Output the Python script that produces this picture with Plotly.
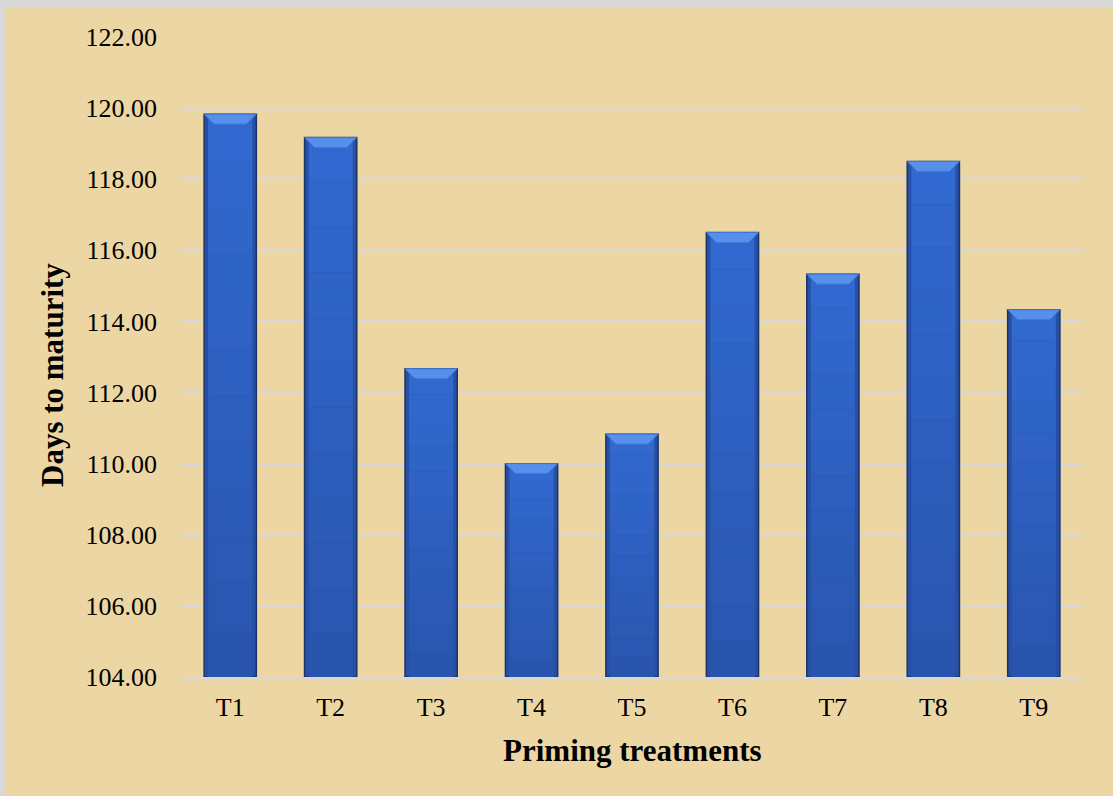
import plotly.graph_objects as go

# Priming treatments and mean days to maturity
treatments = ["T1", "T2", "T3", "T4", "T5", "T6", "T7", "T8", "T9"]
days_to_maturity = [119.83, 119.17, 112.67, 110.00, 110.83, 116.50, 115.33, 118.50, 114.33]
y_ticks = [104, 106, 108, 110, 112, 114, 116, 118, 120, 122]

W, H = 1113, 796
ML, MR, MT, MB = 180, 29, 37, 119
PW, PH = W - ML - MR, H - MT - MB

FONT = "Liberation Serif, Times New Roman, serif"
BG = "#ECD6A4"
GRID = "#D6D8DB"
BASE = 104

xs = list(range(len(treatments)))
BAR_W = 0.52


def px_x(p):
    return (p - ML) / PW


def px_y(p):
    return (H - MB - p) / PH


def mix(c1, c2, t):
    return "rgb({},{},{})".format(*[round(a + (b - a) * t) for a, b in zip(c1, c2)])


fig = go.Figure()

# outer (darker) bar body with navy outline
fig.add_trace(go.Bar(
    x=xs, y=[v - BASE for v in days_to_maturity], base=BASE, width=BAR_W,
    marker=dict(color="#274FA3", line=dict(color="#1C3468", width=1.5)),
    hoverinfo="skip", showlegend=False,
))

# vertical shading: each bar is split into bands, dark at the base, lighter near the top
bottom_rgb, top_rgb = (41, 84, 172), (50, 106, 210)
n_bands = 12
for k in range(n_bands):
    f0, f1 = k / n_bands, (k + 1) / n_bands
    fig.add_trace(go.Bar(
        x=xs,
        y=[(v - BASE) * (f1 - f0) for v in days_to_maturity],
        base=[BASE + (v - BASE) * f0 for v in days_to_maturity],
        width=BAR_W - 0.08,
        marker=dict(color=mix(bottom_rgb, top_rgb, (k + 0.5) / n_bands), line=dict(width=0)),
        hoverinfo="skip", showlegend=False,
    ))

# bevelled top face of each bar
bx, by = [], []
inset, depth = 0.1, 0.28
for i, v in zip(xs, days_to_maturity):
    h = BAR_W / 2
    bx += [i - h, i + h, i + h - inset, i - h + inset, i - h, None]
    by += [v, v, v - depth, v - depth, v, None]
fig.add_trace(go.Scatter(
    x=bx, y=by, mode="lines", fill="toself", fillcolor="#5690EA",
    line=dict(color="#3F78D8", width=1), hoverinfo="skip", showlegend=False,
))

fig.update_layout(
    width=W, height=H,
    margin=dict(l=ML, r=MR, t=MT, b=MB),
    paper_bgcolor="#D9D9D9",
    plot_bgcolor="rgba(0,0,0,0)",
    barmode="overlay",
    font=dict(family=FONT, color="black"),
    xaxis=dict(
        range=[-0.5, len(treatments) - 0.5],
        tickvals=xs, ticktext=treatments,
        tickfont=dict(size=26, family=FONT),
        showgrid=False, zeroline=False,
        showline=True, linecolor=GRID, linewidth=2,
        ticks="", ticklabelstandoff=6,
    ),
    yaxis=dict(
        range=[104, 122],
        tickvals=y_ticks, tickformat=".2f",
        tickfont=dict(size=26, family=FONT),
        showgrid=True, gridcolor=GRID, gridwidth=1.5,
        zeroline=False, showline=False,
        ticks="", ticklabelstandoff=22,
    ),
    shapes=[
        # parchment-coloured panel inside the thin grey frame
        dict(type="rect", xref="paper", yref="paper",
             x0=px_x(5), x1=px_x(W + 10), y0=px_y(H + 10), y1=px_y(7),
             fillcolor=BG, line=dict(width=0), layer="below"),
    ],
    annotations=[
        dict(text="<b>Priming treatments</b>", xref="paper", yref="paper",
             x=0.5, y=px_y(750), xanchor="center", yanchor="middle",
             showarrow=False, font=dict(size=31, family=FONT, color="black")),
        dict(text="<b>Days to maturity</b>", xref="paper", yref="paper",
             x=px_x(52), y=px_y(375), xanchor="center", yanchor="middle",
             textangle=-90, showarrow=False,
             font=dict(size=31, family=FONT, color="black")),
    ],
)

fig.write_html("out.html")
